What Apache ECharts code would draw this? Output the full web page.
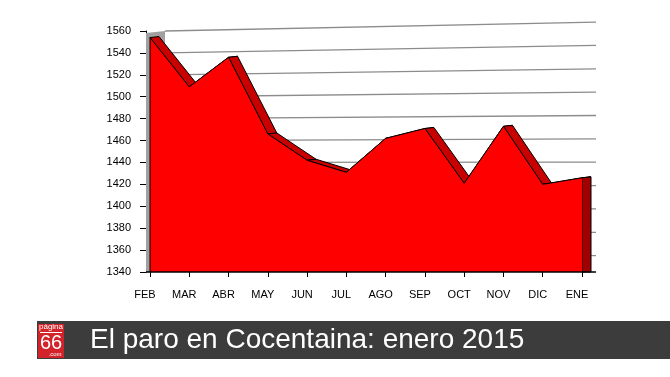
<!DOCTYPE html>
<html>
<head>
<meta charset="utf-8">
<script src="https://cdn.jsdelivr.net/npm/echarts@6/dist/echarts.min.js"></script>
<style>
  html, body { margin: 0; padding: 0; background: #fff; }
  #chart { width: 670px; height: 377px; }
</style>
</head>
<body>
<div id="chart"></div>
<script>
// Paro registrado en Cocentaina, feb 2014 - ene 2015
const months = ['FEB', 'MAR', 'ABR', 'MAY', 'JUN', 'JUL', 'AGO', 'SEP', 'OCT', 'NOV', 'DIC', 'ENE'];
const parados = [1554, 1509, 1536, 1466, 1442, 1431, 1462, 1471, 1421, 1473, 1420, 1426];
const yTicks = [1340, 1360, 1380, 1400, 1420, 1440, 1460, 1480, 1500, 1520, 1540, 1560];

const chart = echarts.init(document.getElementById('chart'));

// depth of the 3D effect (px)
const DX = 9, DY = -1;

chart.setOption({
  animation: false,
  grid: { left: 150, right: 88, top: 31, bottom: 105 },
  xAxis: {
    type: 'category',
    data: months,
    boundaryGap: false,
    axisLine: { show: false },
    axisTick: { show: true, length: 5, lineStyle: { color: '#000' } },
    axisLabel: {
      color: '#000', fontFamily: 'Liberation Sans', fontSize: 11,
      margin: 17, padding: [0, 10, 0, 0], interval: 0
    },
    splitLine: { show: false }
  },
  yAxis: {
    type: 'value',
    min: 1340, max: 1560, interval: 20,
    offset: 4,
    axisLine: { show: true, lineStyle: { color: '#000' } },
    axisTick: { show: true, length: 6, lineStyle: { color: '#000' } },
    axisLabel: {
      color: '#000', fontFamily: 'Liberation Sans', fontSize: 11, margin: 15,
      formatter: v => String(v)
    },
    splitLine: { show: false }
  },
  series: [
    {
      // back wall gridlines + grey side wall
      name: 'rejilla',
      type: 'custom',
      z: 1,
      clip: false,
      silent: true,
      data: yTicks.map(v => [0, v]),
      renderItem: (params, api) => {
        const v = api.value(1);
        const base = api.coord([0, yTicks[0]]);
        const p = api.coord([0, v]);
        const right = api.coord([months.length - 1, v]);
        if (v === yTicks[0]) {
          const top = api.coord([0, yTicks[yTicks.length - 1]]);
          return {
            type: 'polygon',
            shape: { points: [[base[0] - 4, base[1]], [top[0] - 4, top[1] + 2], [top[0] + 15, top[1]], [base[0] + 15, base[1]]] },
            style: { fill: '#a0a0a0', stroke: null }
          };
        }
        const yR = base[1] + 7 - (base[1] - p[1]) * 1.066;
        return {
          type: 'line',
          shape: { x1: p[0] + 15, y1: p[1], x2: right[0] + 14, y2: yR },
          style: { stroke: '#8c8c8c', lineWidth: 1.3 }
        };
      }
    },
    {
      // top band of the 3D area
      name: 'canto',
      type: 'custom',
      z: 2,
      clip: false,
      silent: true,
      data: parados.map((v, i) => [i, v]),
      renderItem: (params, api) => {
        const i = api.value(0);
        const p = api.coord([i, api.value(1)]);
        if (i < parados.length - 1) {
          const q = api.coord([i + 1, parados[i + 1]]);
          return {
            type: 'polygon',
            shape: { points: [p, q, [q[0] + DX, q[1] + DY], [p[0] + DX, p[1] + DY]] },
            style: { fill: '#c80000', stroke: '#000', lineWidth: 1 }
          };
        }
        const b = api.coord([i, yTicks[0]]);
        return {
          type: 'polygon',
          shape: { points: [p, [p[0] + DX, p[1] + DY], [b[0] + DX, b[1]], b] },
          style: { fill: '#a00000', stroke: '#000', lineWidth: 1 }
        };
      }
    },
    {
      name: 'Parados',
      type: 'line',
      z: 3,
      data: parados,
      symbol: 'none',
      silent: true,
      lineStyle: { color: '#000', width: 1 },
      areaStyle: { color: '#ff0000', opacity: 1, origin: 'start' },
      emphasis: { disabled: true }
    },
    {
      // front edges: left side and floor
      name: 'bordes',
      type: 'custom',
      z: 4,
      clip: false,
      silent: true,
      data: [[0, parados[0]]],
      renderItem: (params, api) => {
        const p = api.coord([0, api.value(1)]);
        const b = api.coord([0, yTicks[0]]);
        const e = api.coord([months.length - 1, yTicks[0]]);
        return {
          type: 'group',
          children: [
            { type: 'line', shape: { x1: p[0], y1: p[1], x2: b[0], y2: b[1] }, style: { stroke: '#000', lineWidth: 1 } },
            { type: 'line', shape: { x1: b[0] - 4, y1: b[1], x2: e[0] + 14, y2: e[1] }, style: { stroke: '#000', lineWidth: 1.3 } }
          ]
        };
      }
    }
  ],
  graphic: [
    { type: 'rect', shape: { x: 37, y: 321, width: 633, height: 38 }, style: { fill: '#3c3c3c' }, silent: true },
    { type: 'rect', shape: { x: 38, y: 324, width: 26, height: 34 }, style: { fill: '#d2232a' }, silent: true },
    { type: 'text', style: { x: 51, y: 327, text: 'página', fill: '#fff', font: '8px "Liberation Sans"', align: 'center', verticalAlign: 'middle' }, silent: true },
    { type: 'line', shape: { x1: 40, y1: 332.5, x2: 62, y2: 332.5 }, style: { stroke: '#fff', lineWidth: 1 }, silent: true },
    { type: 'text', style: { x: 51, y: 343, text: '66', fill: '#fff', font: '20px "Liberation Sans"', align: 'center', verticalAlign: 'middle' }, silent: true },
    { type: 'text', style: { x: 55, y: 354, text: '.com', fill: '#fff', font: '6px "Liberation Sans"', align: 'center', verticalAlign: 'middle' }, silent: true },
    { type: 'text', style: { x: 90, y: 340, text: 'El paro en Cocentaina: enero 2015', fill: '#fff', font: '28px "Liberation Sans"', verticalAlign: 'middle' }, silent: true }
  ]
});
</script>
</body>
</html>
